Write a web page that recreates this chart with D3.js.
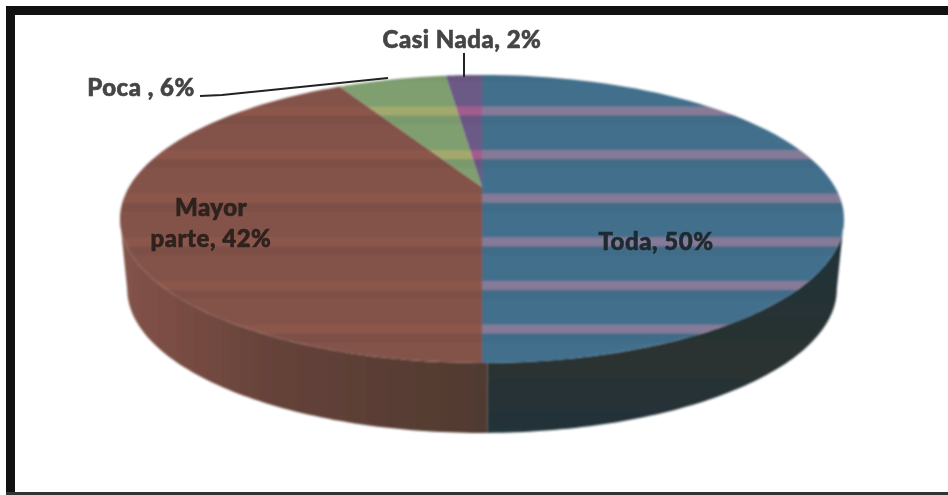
<!DOCTYPE html>
<html>
<head>
<meta charset="utf-8">
<script src="https://cdn.jsdelivr.net/npm/d3@7"></script>
<style>
    html, body { margin: 0; padding: 0; background: #fff; }
    svg { display: block; }
    text { font-family: Lato, "Open Sans", sans-serif; font-weight: 900; }
</style>
</head>
<body>
<div id="chart"></div>
<script>
const categories = ["Toda", "Mayor parte", "Poca", "Casi Nada"];
const shares = [50, 42, 6, 2];
const topColors = ["#42708c", "#83534a", "#7f9f70", "#6c5a86"];
const stripeColors = ["#857a98", "#8c574c", "#a3a96c", "#a25c8e"];

function main() {
    const width = 948;
    const height = 495;

    const svg = d3.select("#chart")
        .append("svg")
        .attr("width", width)
        .attr("height", height);

    const defs = svg.append("defs");

    // scan look, everything is a bit soft
    defs.append("filter").attr("id", "soft")
        .append("feGaussianBlur").attr("stdDeviation", 1);
    defs.append("filter").attr("id", "softText")
        .append("feGaussianBlur").attr("stdDeviation", 0.4);

    // horizontal bands across the top face
    topColors.forEach((c, i) => {
        const p = defs.append("pattern")
            .attr("id", "band" + i)
            .attr("patternUnits", "userSpaceOnUse")
            .attr("width", 948)
            .attr("height", 43.6)
            .attr("y", 106.5);
        p.append("rect").attr("width", 948).attr("height", 43.6).attr("fill", c);
        p.append("rect").attr("y", 9).attr("width", 948).attr("height", 9).attr("fill", "#000").attr("opacity", 0.04);
        p.append("rect").attr("width", 948).attr("height", 9).attr("fill", stripeColors[i]);
    });

    const wallRed = defs.append("linearGradient")
        .attr("id", "wallRed")
        .attr("gradientUnits", "userSpaceOnUse")
        .attr("x1", 120).attr("x2", 482).attr("y1", 0).attr("y2", 0);
    wallRed.append("stop").attr("offset", 0).attr("stop-color", "#83534a");
    wallRed.append("stop").attr("offset", 0.12).attr("stop-color", "#7c4e45");
    wallRed.append("stop").attr("offset", 0.4).attr("stop-color", "#66433a");
    wallRed.append("stop").attr("offset", 1).attr("stop-color", "#503a31");

    const wallBlue = defs.append("linearGradient")
        .attr("id", "wallBlue")
        .attr("gradientUnits", "userSpaceOnUse")
        .attr("x1", 0).attr("x2", 0).attr("y1", 250).attr("y2", 433);
    wallBlue.append("stop").attr("offset", 0).attr("stop-color", "#1f3238");
    wallBlue.append("stop").attr("offset", 0.6).attr("stop-color", "#2b3031");
    wallBlue.append("stop").attr("offset", 1).attr("stop-color", "#22343a");

    // the disc is seen in perspective, so the centre sits above the middle of the ellipse
    const apexX = 482, apexY = 187;
    const depth = 70;
    const persp = -0.222, scaleU = 353, scaleV = 136.9;
    const project = (a, shrink) => {
        const u = Math.sin(a), v = -Math.cos(a);
        const w = 1 + persp * v;
        return [apexX + shrink * scaleU * u / w, apexY + scaleV * v / w];
    };
    const topPoint = (a) => project(a, 1);
    const bottomPoint = (a) => {
        const p = project(a, 0.98);
        return [p[0], p[1] + depth];
    };
    const line = d3.line();
    const sweep = (a0, a1, fn) => d3.range(0, 81).map((k) => fn(a0 + (a1 - a0) * k / 80));

    const slices = d3.pie().sort(null).value((d) => d)(shares);

    const pie = svg.append("g").attr("filter", "url(#soft)");

    // side wall, only the part turned to the viewer
    const sideAngle = Math.PI / 2 + Math.asin(-persp);
    const seam = Math.PI - 0.012; // red wall runs a few pixels past the top face seam
    const walls = [
        { a0: sideAngle, a1: seam, fill: "url(#wallBlue)" },
        { a0: seam, a1: 2 * Math.PI - sideAngle, fill: "url(#wallRed)" }
    ];
    pie.selectAll("path.wall")
        .data(walls)
        .enter()
        .append("path")
        .attr("class", "wall")
        .attr("d", (d) => line(sweep(d.a0, d.a1, topPoint).concat(sweep(d.a1, d.a0, bottomPoint))) + "Z")
        .attr("fill", (d) => d.fill);

    pie.selectAll("path.slice")
        .data(slices)
        .enter()
        .append("path")
        .attr("class", "slice")
        .attr("d", (d) => line([[apexX, apexY]].concat(sweep(d.startAngle, d.endAngle, topPoint))) + "Z")
        .attr("fill", (d, i) => "url(#band" + i + ")");

    // leader lines
    const leader = svg.append("g")
        .attr("fill", "none")
        .attr("stroke", "#222")
        .attr("stroke-width", 2);
    leader.append("path").attr("d", line([[200, 96], [222, 95], [388, 78]]));
    leader.append("path").attr("d", line([[464, 53], [464, 77]]));

    const labelRows = [
        { text: categories[3] + ", " + shares[3] + "%", x: 462, y: 48, color: "#444" },
        { text: categories[2] + " , " + shares[2] + "%", x: 141, y: 96, color: "#444" },
        { text: "Mayor", x: 211, y: 216, color: "#2e211d" },
        { text: "parte, " + shares[1] + "%", x: 211, y: 247, color: "#2e211d" },
        { text: categories[0] + ", " + shares[0] + "%", x: 656, y: 250, color: "#1f2a30" }
    ];
    svg.append("g")
        .attr("filter", "url(#softText)")
        .selectAll("text.label")
        .data(labelRows)
        .enter()
        .append("text")
        .attr("class", "label")
        .attr("x", (d) => d.x)
        .attr("y", (d) => d.y)
        .attr("text-anchor", "middle")
        .attr("font-size", 24)
        .attr("letter-spacing", 0.5)
        .attr("fill", (d) => d.color)
        .attr("stroke", (d) => d.color)
        .attr("stroke-width", 0.6)
        .text((d) => d.text);

    // frame of the scan: heavy on the top and left, thin at the bottom, none on the right
    const frame = svg.append("g").attr("fill", "#111");
    frame.append("rect").attr("x", 6).attr("y", 6).attr("width", 942).attr("height", 9);
    frame.append("rect").attr("x", 6).attr("y", 6).attr("width", 9).attr("height", 489);
    frame.append("rect").attr("x", 6).attr("y", 492).attr("width", 942).attr("height", 3).attr("fill", "#333");
}
main();
</script>
</body>
</html>
